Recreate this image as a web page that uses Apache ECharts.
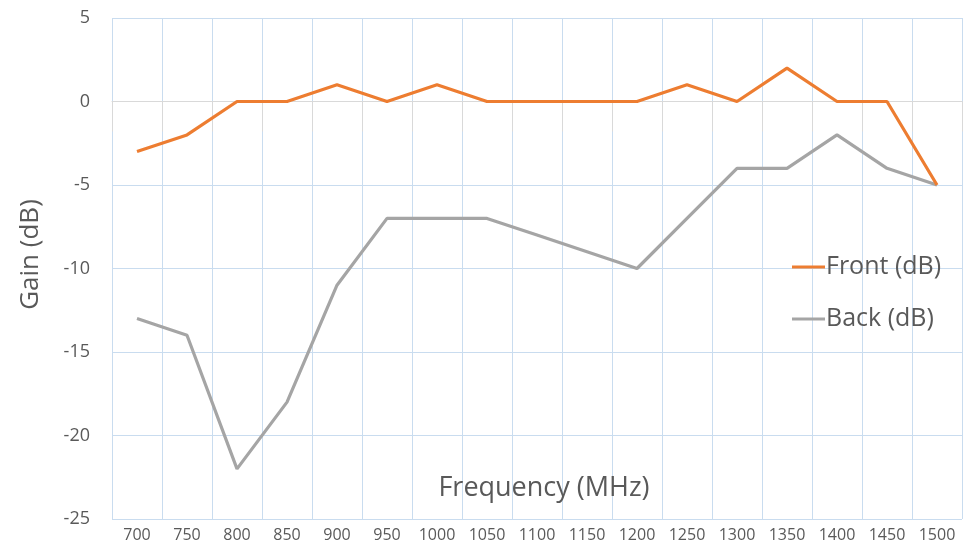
<!DOCTYPE html>
<html>
<head>
<meta charset="utf-8">
<script src="https://cdn.jsdelivr.net/npm/echarts@6/dist/echarts.min.js"></script>
<style>
html,body{margin:0;padding:0;background:#fff;}
#chart{width:972px;height:548px;}
</style>
</head>
<body>
<div id="chart"></div>
<script>
const categories = ['700','750','800','850','900','950','1000','1050','1100','1150','1200','1250','1300','1350','1400','1450','1500'];
const frontDb = [-3, -2, 0, 0, 1, 0, 1, 0, 0, 0, 0, 1, 0, 2, 0, 0, -5];
const backDb = [-13, -14, -22, -18, -11, -7, -7, -7, -8, -9, -10, -7, -4, -4, -2, -4, -5];
const seriesNames = ['Front (dB)', 'Back (dB)'];

const font = '"Open Sans", sans-serif';
const txt = '#595959';
const chart = echarts.init(document.getElementById('chart'));
chart.setOption({
  animation: false,
  backgroundColor: '#fff',
  grid: { left: 112, right: 10, top: 18, bottom: 29, containLabel: false, outerBoundsMode: 'none' },
  legend: {
    orient: 'vertical',
    left: 787,
    top: 247,
    icon: 'rect',
    itemWidth: 33,
    itemHeight: 3,
    itemGap: 22,
    textStyle: { color: txt, fontSize: 25, fontFamily: font, lineHeight: 30, padding: [0, 0, 0, -4] },
    data: seriesNames
  },
  xAxis: {
    type: 'category',
    data: categories,
    boundaryGap: true,
    name: 'Frequency (MHz)',
    nameLocation: 'middle',
    nameGap: -31,
    nameMoveOverlap: false,
    nameTextStyle: { color: txt, fontSize: 27, fontFamily: font, verticalAlign: 'middle', padding: [0, 0, 0, 14] },
    axisLine: { show: true, lineStyle: { color: '#d9d9d9', width: 1 } },
    axisTick: { show: true, length: 30, lineStyle: { color: '#d9d9d9' } },
    axisLabel: { color: txt, fontSize: 16, fontFamily: font, margin: 8 },
    splitLine: { show: true, lineStyle: { color: '#c9dcef', width: 1 } }
  },
  yAxis: {
    type: 'value',
    min: -25,
    max: 5,
    interval: 5,
    name: 'Gain (dB)',
    nameLocation: 'middle',
    nameGap: 68,
    nameMoveOverlap: false,
    nameTextStyle: { color: txt, fontSize: 26, fontFamily: font, padding: [0, 0, 0, 28] },
    axisLine: { show: false },
    axisTick: { show: false },
    axisLabel: { color: txt, fontSize: 18, fontFamily: font, margin: 22 },
    splitLine: { show: true, lineStyle: { color: '#c9dcef', width: 1 } }
  },
  series: [
    { name: seriesNames[0], type: 'line', data: frontDb, symbol: 'none', lineStyle: { color: '#ED7D31', width: 3.2 }, itemStyle: { color: '#ED7D31' }, z: 3 },
    { name: seriesNames[1], type: 'line', data: backDb, symbol: 'none', lineStyle: { color: '#A5A5A5', width: 3.2 }, itemStyle: { color: '#A5A5A5' }, z: 2 }
  ]
});
</script>
</body>
</html>
